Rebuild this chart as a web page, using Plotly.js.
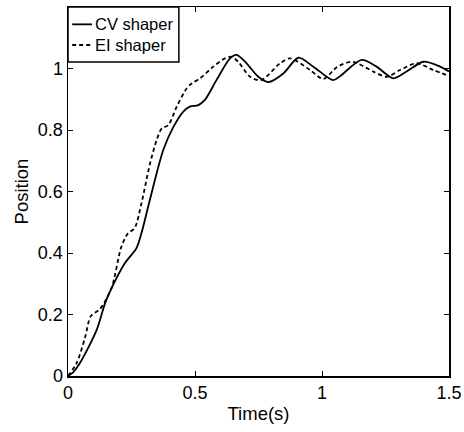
<!DOCTYPE html>
<html><head><meta charset="utf-8">
<script src="https://cdn.plot.ly/plotly-3.0.1.min.js"></script>
<style>body{margin:0;padding:0;background:#fff}#chart{width:464px;height:432px}</style>
</head><body><div id="chart"></div>
<script>
const cvTime = [0, 0.02, 0.047, 0.113, 0.146, 0.171, 0.223, 0.269, 0.289, 0.32, 0.375, 0.415, 0.454, 0.48, 0.513, 0.539, 0.585, 0.638, 0.664, 0.703, 0.749, 0.789, 0.848, 0.907, 0.966, 1.044, 1.071, 1.156, 1.215, 1.281, 1.333, 1.399, 1.465, 1.5];
const cvPos  = [0, 0.012, 0.042, 0.15, 0.237, 0.285, 0.366, 0.415, 0.464, 0.565, 0.735, 0.81, 0.86, 0.876, 0.881, 0.898, 0.963, 1.033, 1.044, 1.017, 0.973, 0.956, 0.984, 1.035, 1.006, 0.962, 0.975, 1.028, 1.006, 0.968, 0.99, 1.022, 1.006, 0.99];
const eiTime = [0, 0.034, 0.067, 0.09, 0.126, 0.171, 0.21, 0.236, 0.262, 0.289, 0.323, 0.349, 0.369, 0.395, 0.428, 0.467, 0.487, 0.52, 0.572, 0.618, 0.644, 0.67, 0.717, 0.76, 0.835, 0.874, 0.953, 1.005, 1.06, 1.12, 1.202, 1.255, 1.307, 1.373, 1.438, 1.5];
const eiPos  = [0, 0.042, 0.125, 0.195, 0.218, 0.285, 0.42, 0.464, 0.48, 0.561, 0.691, 0.767, 0.805, 0.816, 0.876, 0.935, 0.951, 0.968, 1.006, 1.033, 1.038, 1.022, 0.973, 0.962, 1.017, 1.033, 0.995, 0.966, 1.005, 1.022, 0.99, 0.973, 0.995, 1.017, 0.995, 0.976];
const seriesNames = ['CV shaper', 'EI shaper'];
const xTicks = [0, 0.5, 1, 1.5];
const xTickText = ['0', '0.5', '1', '1.5'];
const yTicks = [0, 0.2, 0.4, 0.6, 0.8, 1];
const yTickText = ['0', '0.2', '0.4', '0.6', '0.8', '1'];

const fam = 'Liberation Sans, Arial, Helvetica, sans-serif';
const dashStyle = '4px,3px';
const traces = [
  {x: cvTime, y: cvPos, mode: 'lines', name: seriesNames[0], showlegend: false, line: {color: '#000', width: 1.8, shape: 'spline', smoothing: 0.8}},
  {x: eiTime, y: eiPos, mode: 'lines', name: seriesNames[1], showlegend: false, line: {color: '#000', width: 1.8, dash: dashStyle, shape: 'spline', smoothing: 0.8}}
];
// legend box (paper coordinates)
const shapes = [
  {type: 'rect', xref: 'paper', yref: 'paper', x0: 0, x1: 0.291, y0: 0.851, y1: 1, line: {color: '#000', width: 1.5}, fillcolor: '#fff', layer: 'above'},
  {type: 'line', xref: 'paper', yref: 'paper', x0: 0.011, x1: 0.063, y0: 0.953, y1: 0.953, line: {color: '#000', width: 1.8}, layer: 'above'},
  {type: 'line', xref: 'paper', yref: 'paper', x0: 0.011, x1: 0.063, y0: 0.897, y1: 0.897, line: {color: '#000', width: 1.8, dash: dashStyle}, layer: 'above'}
];
const annotations = [
  {xref: 'paper', yref: 'paper', x: 0.066, y: 0.953, xanchor: 'left', yanchor: 'middle', showarrow: false, text: seriesNames[0], font: {family: fam, size: 16.5, color: '#000'}},
  {xref: 'paper', yref: 'paper', x: 0.066, y: 0.897, xanchor: 'left', yanchor: 'middle', showarrow: false, text: seriesNames[1], font: {family: fam, size: 16.5, color: '#000'}}
];
const layout = {
  width: 464, height: 432,
  margin: {l: 68, r: 15, t: 7, b: 56},
  paper_bgcolor: '#fff', plot_bgcolor: '#fff',
  font: {family: fam, size: 17, color: '#000'},
  showlegend: false,
  shapes: shapes,
  annotations: annotations,
  xaxis: {range: [0, 1.5], tickvals: xTicks, ticktext: xTickText, ticks: 'inside', ticklen: 5, tickcolor: '#000',
          showline: true, linecolor: '#000', linewidth: 1.5, mirror: 'ticks', showgrid: false, zeroline: false,
          title: {text: 'Time(s)', font: {family: fam, size: 18.5, color: '#000'}, standoff: 5},
          tickfont: {family: fam, size: 18, color: '#000'}},
  yaxis: {range: [0, 1.2], tickvals: yTicks, ticktext: yTickText, ticks: 'inside', ticklen: 5, tickcolor: '#000',
          showline: true, linecolor: '#000', linewidth: 1.5, mirror: 'ticks', showgrid: false, zeroline: false,
          title: {text: 'Position', font: {family: fam, size: 18.5, color: '#000'}, standoff: 4},
          tickfont: {family: fam, size: 18, color: '#000'}}
};
Plotly.newPlot('chart', traces, layout, {displayModeBar: false, staticPlot: true});
</script></body></html>
